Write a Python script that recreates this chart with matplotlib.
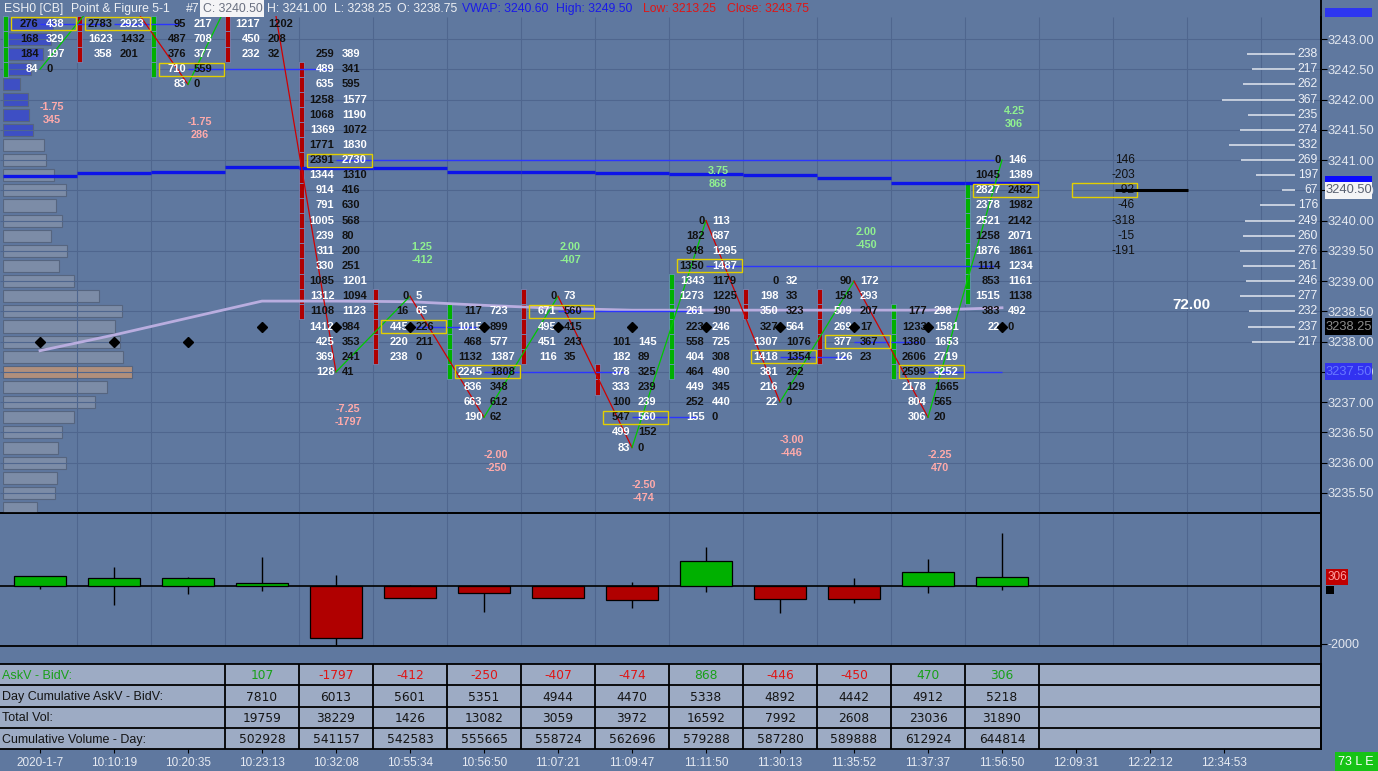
import matplotlib
matplotlib.use('Agg')
import matplotlib.pyplot as plt
from matplotlib.patches import Rectangle
from matplotlib.lines import Line2D
from matplotlib.transforms import blended_transform_factory
import numpy as np

plt.rcParams['font.family'] = ['Liberation Sans', 'DejaVu Sans']

# ---------------- data ----------------
times = ['2020-1-7', '10:10:19', '10:20:35', '10:23:13', '10:32:08', '10:55:34',
         '10:56:50', '11:07:21', '11:09:47', '11:11:50', '11:30:13', '11:35:52',
         '11:37:37', '11:56:50', '12:09:31', '12:22:12', '12:34:53']

# footprint: top price of each bar, then bid / ask volume per price (top -> down)
fp_top = [3243.25, 3243.25, 3243.25, 3243.25, 3242.75, 3238.75, 3238.50,
          3238.75, 3238.00, 3240.00, 3239.00, 3239.00, 3238.50, 3241.00]
fp_bid = [
    [276, 168, 184, 84],
    [2783, 1623, 358],
    [95, 487, 376, 710, 83],
    [1217, 450, 232],
    [259, 489, 635, 1258, 1068, 1369, 1771, 2391, 1344, 914, 791, 1005, 239, 311,
     330, 1085, 1312, 1108, 1412, 425, 369, 128],
    [0, 16, 445, 220, 238],
    [117, 1015, 468, 1132, 2245, 836, 663, 190],
    [0, 671, 495, 451, 116],
    [101, 182, 378, 333, 100, 547, 499, 83],
    [0, 182, 948, 1350, 1343, 1273, 261, 223, 558, 404, 464, 449, 252, 155],
    [0, 198, 350, 327, 1307, 1418, 381, 216, 22],
    [90, 158, 509, 269, 377, 126],
    [177, 1233, 1380, 2606, 2599, 2178, 804, 306],
    [0, 1045, 2827, 2378, 2521, 1258, 1876, 1114, 853, 1515, 383, 22],
]
fp_ask = [
    [438, 329, 197, 0],
    [2923, 1432, 201],
    [217, 708, 377, 559, 0],
    [1202, 208, 32],
    [389, 341, 595, 1577, 1190, 1072, 1830, 2730, 1310, 416, 630, 568, 80, 200,
     251, 1201, 1094, 1123, 984, 353, 241, 41],
    [5, 65, 226, 211, 0],
    [723, 899, 577, 1387, 1808, 348, 612, 62],
    [73, 560, 415, 243, 35],
    [145, 89, 325, 239, 239, 560, 152, 0],
    [113, 687, 1295, 1487, 1179, 1225, 190, 246, 725, 308, 490, 345, 440, 0],
    [32, 33, 323, 564, 1076, 1354, 262, 129, 0],
    [172, 293, 207, 17, 367, 23],
    [298, 1581, 1653, 2719, 3252, 1665, 565, 20],
    [146, 1389, 2482, 1982, 2142, 2071, 1861, 1234, 1161, 1138, 492, 0],
]
show_poc = [True, True, True, False, True, True, True, True, True, True, True, True, True, True]

body_top = [3243.25, 3243.25, 3243.25, 3243.25, 3242.50, 3238.75, 3238.50,
            3238.75, 3237.50, 3239.00, 3238.75, 3238.75, 3238.50, 3240.50]
body_bot = [3242.50, 3242.75, 3242.50, 3242.75, 3238.50, 3237.75, 3237.50,
            3237.75, 3237.25, 3237.50, 3238.50, 3237.75, 3237.50, 3238.75]
body_up = [True, False, True, False, False, False, True, False, False, True,
           False, False, True, True]

swing = [3242.50, 3244.00, 3242.25, 3244.75, 3237.50, 3238.75, 3236.75,
         3238.75, 3236.25, 3240.00, 3237.00, 3239.00, 3236.75, 3241.00]
price_chg = [-1.75, None, -1.75, None, -7.25, 1.25, -2.00, 2.00, -2.50, 3.75,
             -3.00, 2.00, -2.25, 4.25]
delta = [345, 280, 286, 107, -1797, -412, -250, -407, -474, 868, -446, -450, 470, 306]
delta_hi = [345, 660, 310, 1000, 380, 35, 0, 0, 140, 1350, 0, 280, 930, 1830]
delta_lo = [-104, -660, -280, -170, -2040, -412, -900, -407, -760, -200, -930,
            -590, -240, -140]

diamond = [3238.00, 3238.00, 3238.00, 3238.25, 3238.25, 3238.25, 3238.25,
           3238.25, 3238.25, 3238.25, 3238.25, 3238.25, 3238.25, 3238.25]
vwap = [3240.74, 3240.79, 3240.80, 3240.885, 3240.87, 3240.87, 3240.80,
        3240.80, 3240.78, 3240.77, 3240.75, 3240.70, 3240.615, 3240.615]
poc_trail = [3237.85, 3238.11, 3238.39, 3238.67, 3238.67, 3238.66, 3238.60,
             3238.55, 3238.52, 3238.52, 3238.52, 3238.52, 3238.52, 3238.56]

live_top = 3241.00
live_delta = [146, -203, -92, -46, -318, -15, -191]
last_price = 3240.50
vwap_now = 3240.60
last_value = 72.00

lprof_top = 3243.25
lprof_vol = [5000, 4800, 4000, 2800, 1700, 2500, 2600, 3000, 4100, 4300, 5100,
             6300, 5300, 5900, 4800, 6400, 5600, 7100, 9600, 11900, 11200, 11700,
             12000, 12900, 10400, 9200, 7100, 5900, 5500, 6300, 5400, 5200, 3400]
lprof_blue_rows = 8

rprof_top = 3242.75
rprof_vol = [238, 217, 262, 367, 235, 274, 332, 269, 197, 67, 176, 249, 260, 276,
             261, 246, 277, 232, 237, 217]

table_first = 3
day_cum = [7810, 6013, 5601, 5351, 4944, 4470, 5338, 4892, 4442, 4912, 5218]
total_vol = [19759, 38229, 1426, 13082, 3059, 3972, 16592, 7992, 2608, 23036, 31890]
cum_vol = [502928, 541157, 542583, 555665, 558724, 562696, 579288, 587280, 589888,
           612924, 644814]
row_labels = ['AskV - BidV:', 'Day Cumulative AskV - BidV:', 'Total Vol:',
              'Cumulative Volume - Day:']

# ---------------- style ----------------
BG = '#5f789f'
GRID = '#4f668e'
TABLE_BG = '#9dabc4'
UP = '#00b000'
DN = '#b00000'
W, H = 1378, 771
TICK = 0.25
PX = 1 / 74.0     # bar units per pixel
PY = 1 / 60.53    # price units per pixel
n = len(fp_top)


def fbox(x0, y0, x1, y1):
    return [x0 / W, 1 - y1 / H, (x1 - x0) / W, (y1 - y0) / H]


fig = plt.figure(figsize=(W / 100, H / 100), dpi=100, facecolor=BG)
xlim = (-40 * PX, (1321 - 40) * PX)
ylim = (3243 - (513 - 39) * PY, 3243 + (39 - 16.5) * PY)
bounds = np.arange(0.5, xlim[1], 1)

# ---------------- main footprint panel ----------------
ax = fig.add_axes(fbox(0, 16.5, 1321, 513), zorder=2)
ax.set_xlim(xlim)
ax.set_ylim(ylim)
ax.patch.set_visible(False)
for s in ['top', 'left']:
    ax.spines[s].set_visible(False)
for s in ['right', 'bottom']:
    ax.spines[s].set_color('black')
    ax.spines[s].set_linewidth(1.3)
ax.set_xticks([])
yt = np.arange(3235.5, 3243.01, 0.5)
ax.yaxis.tick_right()
ax.set_yticks(yt)
ax.set_yticklabels([f'{v:.2f}' for v in yt])
ax.tick_params(axis='y', colors='black', labelcolor='#e3e7ef', labelsize=9.3,
               length=4, pad=1)
ax.hlines(yt, *xlim, color=GRID, lw=0.8, zorder=0)
ax.vlines(bounds, *ylim, color=GRID, lw=0.8, zorder=0)

# left volume profile
axl = fig.add_axes(fbox(3, 16.5, 303, 513), zorder=1)
axl.set_xlim(0, 30000)
axl.set_ylim(ylim)
axl.axis('off')
lp = lprof_top - TICK * np.arange(len(lprof_vol))
lpoc = int(np.argmax(lprof_vol))
lcol = ['#3e4fc4' if k < lprof_blue_rows else ('#b08f7c' if k == lpoc else '#7c8ca7')
        for k in range(len(lprof_vol))]
axl.barh(lp, lprof_vol, height=0.2, color=lcol, edgecolor='#56657f', lw=0.8)

# right volume profile
axr = fig.add_axes(fbox(1195, 16.5, 1295, 513), zorder=3)
axr.set_xlim(500, 0)
axr.set_ylim(ylim)
axr.axis('off')
rp = rprof_top - TICK * np.arange(len(rprof_vol))
axr.hlines(rp, 0, rprof_vol, color='#eef1f7', lw=1.2, alpha=0.85)
for p, v in zip(rp, rprof_vol):
    axr.text(-115, p, str(v), ha='right', va='center', color='#eef1f7',
             fontsize=8.7, clip_on=False)

# bodies, numbers, POC boxes and naked POC lines
for i in range(n):
    prices = fp_top[i] - TICK * np.arange(len(fp_bid[i]))
    c = UP if body_up[i] else DN
    for p in np.arange(body_bot[i], body_top[i] + 0.01, TICK):
        ax.add_patch(Rectangle((i - 0.5, p - TICK / 2), 5 * PX, TICK, fc=c,
                               ec='#7393c8', lw=0.5, zorder=3))
    for p, b, a in zip(prices, fp_bid[i], fp_ask[i]):
        ax.text(i - 1.5 * PX, p, str(b), ha='right', va='center', fontsize=8,
                fontweight='bold', color='white' if b > a else '#111111', zorder=5)
        ax.text(i + 6 * PX, p, str(a), ha='left', va='center', fontsize=8,
                fontweight='bold', color='white' if a > b else '#111111', zorder=5)
    if show_poc[i]:
        tot = np.array(fp_bid[i]) + np.array(fp_ask[i])
        pp = prices[int(np.argmax(tot))]
        ax.add_patch(Rectangle((i - 29 * PX, pp - 6.5 * PY), 65 * PX, 13 * PY,
                               fill=False, ec='#e3cf00', lw=1, zorder=6))
        end = n - 1
        for j in range(i + 1, n):
            lo = fp_top[j] - TICK * (len(fp_bid[j]) - 1)
            if lo <= pp <= fp_top[j]:
                end = j - 8 * PX
                break
        if end > i:
            ax.hlines(pp, i, end, color='#2b35ff', lw=1, zorder=4)

# zigzag between swing points
for i in range(n - 1):
    c = '#00c800' if swing[i + 1] > swing[i] else '#d00000'
    ax.plot([i, i + 1], [swing[i], swing[i + 1]], color=c, lw=0.9, zorder=4.5)

# VWAP steps and trail line
ax.hlines(vwap, np.arange(n) - 0.5, np.arange(n) + 0.5, color='#0c14e8', lw=2.4, zorder=4)
ax.plot(range(n), poc_trail, color='#b9addf', lw=2, zorder=3.8)
ax.plot(range(n), diamond, 'D', color='black', ms=5, zorder=7)

# price change / delta labels
for i in range(n):
    if price_chg[i] is None:
        continue
    nb = swing[i + 1] if i < n - 1 else swing[i - 1]
    if swing[i] < nb:
        y1, y2, col = swing[i] - 0.62, swing[i] - 0.835, '#ffaaaa'
    else:
        y1, y2, col = swing[i] + 0.815, swing[i] + 0.60, '#90f090'
    ax.text(i + 12 * PX, y1, f'{price_chg[i]:.2f}', ha='center', va='center',
            fontsize=7.8, fontweight='bold', color=col, zorder=5)
    ax.text(i + 12 * PX, y2, str(delta[i]), ha='center', va='center',
            fontsize=7.8, fontweight='bold', color=col, zorder=5)

# live column at the right
lx = (1135 - 40) * PX
lv = live_top - TICK * np.arange(len(live_delta))
for p, v in zip(lv, live_delta):
    ax.text(lx, p, str(v), ha='right', va='center', fontsize=8.6, color='#101010', zorder=5)
ax.add_patch(Rectangle(((1072 - 40) * PX, last_price - 7 * PY), 65 * PX, 14 * PY,
                       fill=False, ec='#e3cf00', lw=1, zorder=6))
ax.hlines(last_price, (1115 - 40) * PX, (1188 - 40) * PX, color='black', lw=2.2, zorder=6)
ax.text((1191 - 40) * PX, 3238.60, f'{last_value:.2f}', ha='center', va='center',
        fontsize=11, fontweight='bold', color='white', zorder=6)

# price tags on the right axis
tr = blended_transform_factory(fig.transFigure, ax.transData)


def price_tag(price, fc, tc):
    ax.add_patch(Rectangle((1325 / W, price - 8.5 * PY), 47 / W, 17 * PY, transform=tr,
                           fc=fc, ec='none', clip_on=False, zorder=20))
    if tc:
        ax.text(1326 / W, price, f'{price:.2f}', transform=tr, color=tc, fontsize=9.3,
                va='center', ha='left', clip_on=False, zorder=21)


price_tag(vwap_now, '#0a0aff', None)
price_tag(last_price, '#f4f4f6', '#5a6272')
price_tag(3238.25, '#000000', '#8c8c8c')
price_tag(3237.50, '#3232f0', '#6878ff')
fig.patches.append(Rectangle((1325 / W, 1 - 16.5 / H), 47 / W, 8.5 / H,
                             transform=fig.transFigure, fc='#2d36f0', ec='none', zorder=20))

# ---------------- delta candle panel ----------------
ax2 = fig.add_axes(fbox(0, 513, 1321, 646))
ax2.set_facecolor(BG)
ax2.set_xlim(xlim)
ax2.set_ylim(-2076, 2526)
ax2.spines['left'].set_visible(False)
for s in ['top', 'bottom', 'right']:
    ax2.spines[s].set_color('black')
    ax2.spines[s].set_linewidth(1.3)
ax2.vlines(bounds, -2076, 2526, color=GRID, lw=0.8, zorder=0)
ax2.axhline(0, color='black', lw=1.2, zorder=2)
x = np.arange(n)
ax2.vlines(x, delta_lo, delta_hi, color='black', lw=1, zorder=2)
ax2.bar(x, delta, width=52 * PX, color=[UP if d > 0 else DN for d in delta],
        edgecolor='black', lw=0.9, zorder=3)
ax2.set_xticks([])
ax2.yaxis.tick_right()
ax2.set_yticks([-2000])
ax2.set_yticklabels(['-2000'])
ax2.tick_params(axis='y', colors='black', labelcolor='#e3e7ef', labelsize=9, length=4, pad=1)
tr2 = blended_transform_factory(fig.transFigure, ax2.transData)
ax2.add_patch(Rectangle((1326 / W, delta[-1] - 277), 22 / W, 554, transform=tr2,
                        fc='#c00000', ec='none', clip_on=False, zorder=20))
ax2.text(1337 / W, delta[-1], str(delta[-1]), transform=tr2, ha='center', va='center',
         fontsize=8.5, color='#ffa0a0', clip_on=False, zorder=21)
ax2.add_patch(Rectangle((1326 / W, -277), 8 / W, 277, transform=tr2,
                        fc='black', ec='none', clip_on=False, zorder=20))

# ---------------- data table ----------------
ax3 = fig.add_axes(fbox(0, 664, 1321, 749))
ax3.set_facecolor(TABLE_BG)
ax3.set_xlim(xlim)
ax3.set_ylim(4, 0)
ax3.spines['left'].set_visible(False)
for s in ['top', 'bottom', 'right']:
    ax3.spines[s].set_color('black')
    ax3.spines[s].set_linewidth(1.3)
ax3.hlines([1, 2, 3], *xlim, color='black', lw=1.3)
ax3.vlines(np.arange(table_first - 0.5, table_first + len(day_cum), 1), 0, 4,
           color='black', lw=1.3)
for r, lab in enumerate(row_labels):
    ax3.text(xlim[0] + 2 * PX, r + 0.56, lab, ha='left', va='center', fontsize=9,
             color='#18a018' if r == 0 else '#141414')
rows = [delta[table_first:], day_cum, total_vol, cum_vol]
for r, vals in enumerate(rows):
    for k, v in enumerate(vals):
        if r == 0:
            col = '#18a018' if v > 0 else '#e01515'
        else:
            col = '#141414'
        ax3.text(table_first + k, r + 0.56, str(v), ha='center', va='center',
                 fontsize=8.8, family='DejaVu Sans', color=col)
ax3.set_yticks([])
ax3.set_xticks(range(len(times)))
ax3.set_xticklabels(times)
ax3.tick_params(axis='x', colors='black', labelcolor='#e6eaf2', labelsize=8.5,
                length=3, pad=3)

# ---------------- header and frame ----------------
fig.lines.append(Line2D([1321 / W, 1321 / W], [1, 1 - 749 / H], transform=fig.transFigure,
                        color='black', lw=1.3, zorder=15))
header = [(4, 'ESH0 [CB]', '#eef0f4'), (71, 'Point & Figure 5-1', '#eef0f4'),
          (186, '#7', '#eef0f4'), (203, f'C: {last_price:.2f}', '#6a7080'),
          (267, 'H: 3241.00', '#eef0f4'), (334, 'L: 3238.25', '#eef0f4'),
          (397, 'O: 3238.75', '#eef0f4'), (462, f'VWAP: {vwap_now:.2f}', '#1a1ae8'),
          (556, 'High: 3249.50', '#1a1ae8'), (643, 'Low: 3213.25', '#e01515'),
          (727, 'Close: 3243.75', '#e01515')]
fig.patches.append(Rectangle((200 / W, 1 - 17 / H), 64 / W, 17 / H, transform=fig.transFigure,
                             fc='#f4f4f6', ec='none', zorder=10))
for hx, txt, col in header:
    fig.text(hx / W, 1 - 9 / H, txt, ha='left', va='center', fontsize=8.8, color=col, zorder=11)

fig.patches.append(Rectangle((1335 / W, 0), 43 / W, 19 / H, transform=fig.transFigure,
                             fc='#16c316', ec='none', zorder=10))
fig.text(1356 / W, 1 - 762 / H, '73 L E', ha='center', va='center', fontsize=9,
         color='white', zorder=11)

fig.savefig('out.png', dpi=100, facecolor=BG)
